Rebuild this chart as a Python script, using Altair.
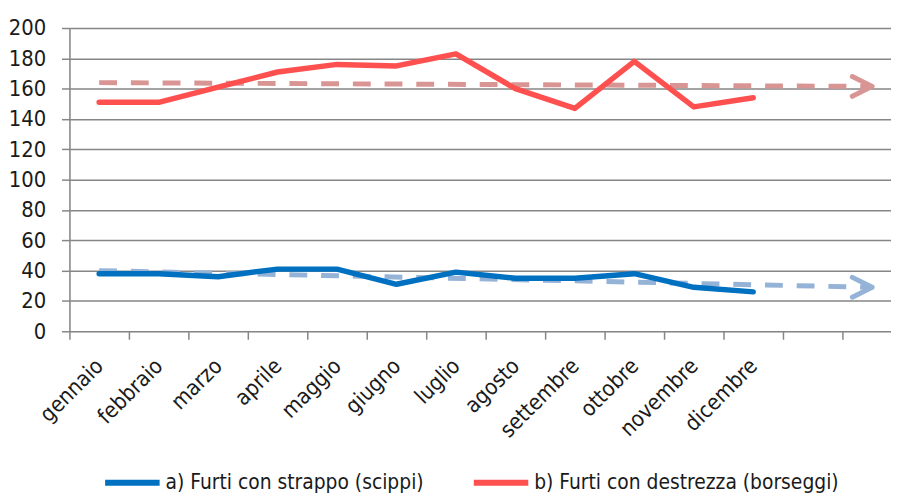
import json
import altair as alt
import pandas as pd

months = ["gennaio", "febbraio", "marzo", "aprile", "maggio", "giugno",
          "luglio", "agosto", "settembre", "ottobre", "novembre", "dicembre"]
series_names = ["a) Furti con strappo (scippi)", "b) Furti con destrezza (borseggi)"]
scippi = [38, 38, 36, 41, 41, 31, 39, 35, 35, 38, 29, 26]
borseggi = [151, 151, 161, 171, 176, 175, 183, 160, 147, 178, 148, 154]
# trend lines (start at gennaio, end two categories after dicembre)
trend_x = [0, 13]
trend_scippi = [40, 29]
trend_borseggi = [164, 161.5]

FONT = "Liberation Sans Narrow, Arial Narrow, DejaVu Sans Condensed, sans-serif"
TXT = "#1a1a1a"
GRID = "#868686"
BLUE, RED = "#0070C0", "#FF5050"
BLUE_T, RED_T = "#95B3D7", "#D99594"

rows = []
for i, m in enumerate(months):
    rows.append({"idx": i, "value": scippi[i], "serie": series_names[0]})
    rows.append({"idx": i, "value": borseggi[i], "serie": series_names[1]})
df = pd.DataFrame(rows)

tr_s = pd.DataFrame({"idx": trend_x, "value": trend_scippi})
tr_b = pd.DataFrame({"idx": trend_x, "value": trend_borseggi})

xscale = alt.Scale(domain=[-0.5, 13.317], nice=False, zero=False)
yscale = alt.Scale(domain=[0, 200], nice=False)

arr = json.dumps(months)
# axis carrying the boundary tick marks
xaxis_ticks = alt.Axis(
    orient="bottom",
    values=[i - 0.5 for i in range(14)],
    labels=False, tickSize=8, tickColor=GRID, tickWidth=1.5,
    grid=False, domain=False, title=None,
)
# axis carrying the month labels at the category centres
xaxis_labels = alt.Axis(
    orient="bottom",
    values=list(range(12)),
    labelExpr=f"{arr}[datum.value]",
    labelAngle=-45, labelAlign="right", labelBaseline="middle",
    labelPadding=31, labelFlush=False, labelOverlap=False, labelBound=False,
    labelFontSize=22, labelFont=FONT, labelColor=TXT,
    ticks=False, tickSize=0, grid=False, domain=False, title=None,
)
yaxis = alt.Axis(
    values=list(range(0, 201, 20)),
    labelFontSize=22, labelFont=FONT, labelColor=TXT, labelPadding=16,
    tickSize=8, tickColor=GRID, tickWidth=1.5,
    grid=True, gridColor=GRID, gridWidth=1.5,
    domain=True, domainColor=GRID, domainWidth=1.5,
    title=None,
)

Y = alt.Y("value:Q", scale=yscale, axis=yaxis)
XT = alt.X("idx:Q", scale=xscale, axis=xaxis_ticks)
XL = alt.X("idx:Q", scale=xscale, axis=xaxis_labels)

arrow = "M-2,-1L0,0L-2,1"

def trend(data, col):
    line = alt.Chart(data).mark_line(
        color=col, strokeWidth=5, strokeDash=[18, 14]
    ).encode(x=XT, y=Y)
    head = alt.Chart(data).transform_filter("datum.idx == 13").mark_point(
        shape=arrow, filled=False, stroke=col, strokeWidth=5, size=400,
        strokeCap="round", strokeJoin="round", opacity=1
    ).encode(x=XT, y=Y)
    return [line, head]

trends = alt.layer(*trend(tr_b, RED_T), *trend(tr_s, BLUE_T))

lines = alt.Chart(df).mark_line(strokeWidth=5.5, strokeCap="round", strokeJoin="round").encode(
    x=XL,
    y=Y,
    color=alt.Color("serie:N", scale=alt.Scale(domain=series_names, range=[BLUE, RED]),
                    legend=alt.Legend(
                        orient="none", legendX=33, legendY=428, direction="horizontal",
                        title=None, symbolType="stroke", symbolSize=3025,
                        symbolStrokeWidth=6, labelFontSize=21, labelFont=FONT,
                        labelColor=TXT, labelOffset=3, columnPadding=38, padding=0,
                        labelLimit=0)),
)

chart = alt.layer(trends, lines).resolve_axis(x="independent").properties(
    width=829, height=306,
    autosize=alt.AutoSizeParams(type="none"),
    padding={"left": 62, "top": 18, "right": 0, "bottom": 163},
).configure_view(stroke=None).configure(background="white")

chart.save("out.html", embed_options={"renderer": "svg", "actions": False})
